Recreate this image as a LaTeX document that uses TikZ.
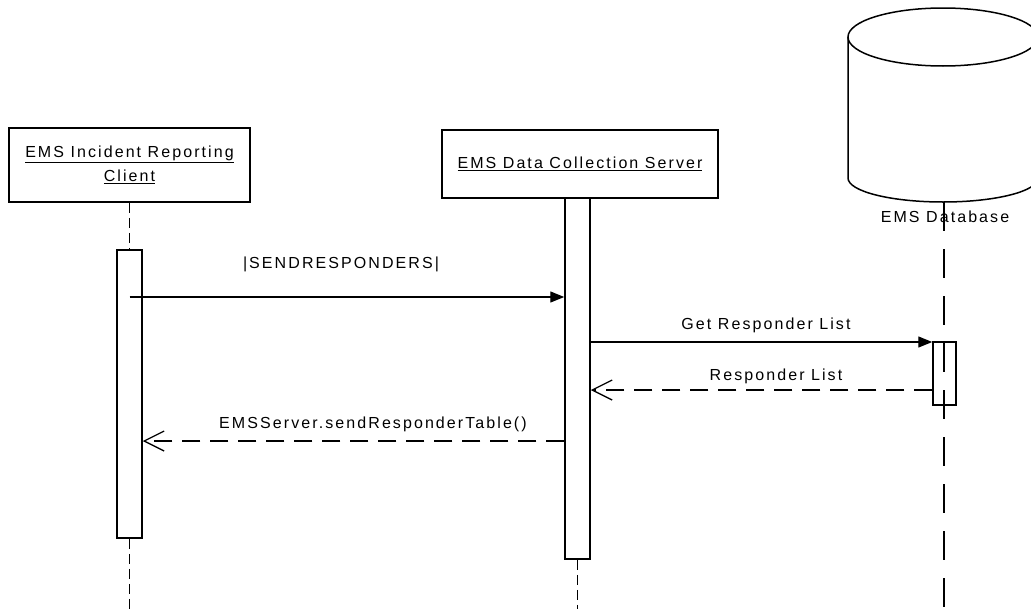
\documentclass[tikz,border=0pt]{standalone}
\usepackage{fontspec}
\setmainfont[LetterSpace=13]{Liberation Sans}
\usetikzlibrary{arrows.meta}
\begin{document}
\begin{tikzpicture}[x=1pt,y=-1pt,
  font=\fontsize{16}{24}\selectfont,
  line width=1.3pt,
  objbox/.style={draw, line width=1.5pt, inner sep=0pt, align=center},
  actbox/.style={draw, line width=1.5pt, minimum width=25pt, inner sep=0pt},
  life/.style={dash pattern=on 10pt off 5pt},
  dblife/.style={dash pattern=on 29pt off 18pt},
  sync/.style={-{Triangle[length=14pt,width=11pt]}},
  reply/.style={dash pattern=on 18pt off 10pt,
    -{Straight Barb[length=20pt,width=20pt,line width=1.3pt]}},
  lbl/.style={inner sep=0pt}]
\useasboundingbox (0,0) rectangle (1031,608);
\clip (0,0) rectangle (1031,608);

% participants
\node[objbox, minimum width=241pt, minimum height=74pt] (client) at (129.5,165)
  {\underline{EMS Incident Reporting}\\\underline{Client}};
\node[objbox, minimum width=276pt, minimum height=68pt] (server) at (580,164)
  {\underline{EMS Data Collection Server}};

% database cylinder
\draw[line width=1.5pt] (943,37) ellipse [x radius=95, y radius=29];
\draw[line width=1.5pt] (848,37) -- (848,178)
  arc[start angle=180, end angle=0, x radius=95, y radius=24] -- (1038,37);
\coordinate (dbbot) at (944,202);
\node[lbl] (dblabel) at (945,217) {EMS Database};

% activations
\node[actbox, minimum height=288pt] (cact) at (129.5,394) {};
\node[actbox, minimum height=361pt] (sact) at (577.5,378.5) {};
\node[actbox, minimum width=23pt, minimum height=63pt] (dact) at (944.5,373.5) {};

% lifelines
\coordinate (cend) at (129.5,612);
\coordinate (send) at (577.5,612);
\coordinate (dend) at (944,612);
\draw[life] (client.south) -- (cact.north);
\draw[life] (cact.south) -- (cend);
\draw[life] (sact.south) -- (send);
\draw[dblife] (dbbot) -- (dend);

% message levels
\coordinate (m1) at (129.5,297);
\coordinate (y2) at (0,342);
\coordinate (y3) at (0,390);
\coordinate (y4) at (0,441);

% messages
\draw[sync] (m1) -- (sact.west |- m1);
\draw[sync] (sact.east |- y2) -- (dact.west |- y2);
\draw[reply] (dact.west |- y3) -- (sact.east |- y3);
\draw[reply] (sact.west |- y4) -- (cact.east |- y4);

% message labels
\node[lbl] (l1) at (341,264) {|SENDRESPONDERS|};
\node[lbl] (l2) at (766,325) {Get Responder List};
\node[lbl] (l3) at (776,376) {Responder List};
\node[lbl] (l4) at (373,424) {EMSServer.sendResponderTable()};
\end{tikzpicture}
\end{document}
